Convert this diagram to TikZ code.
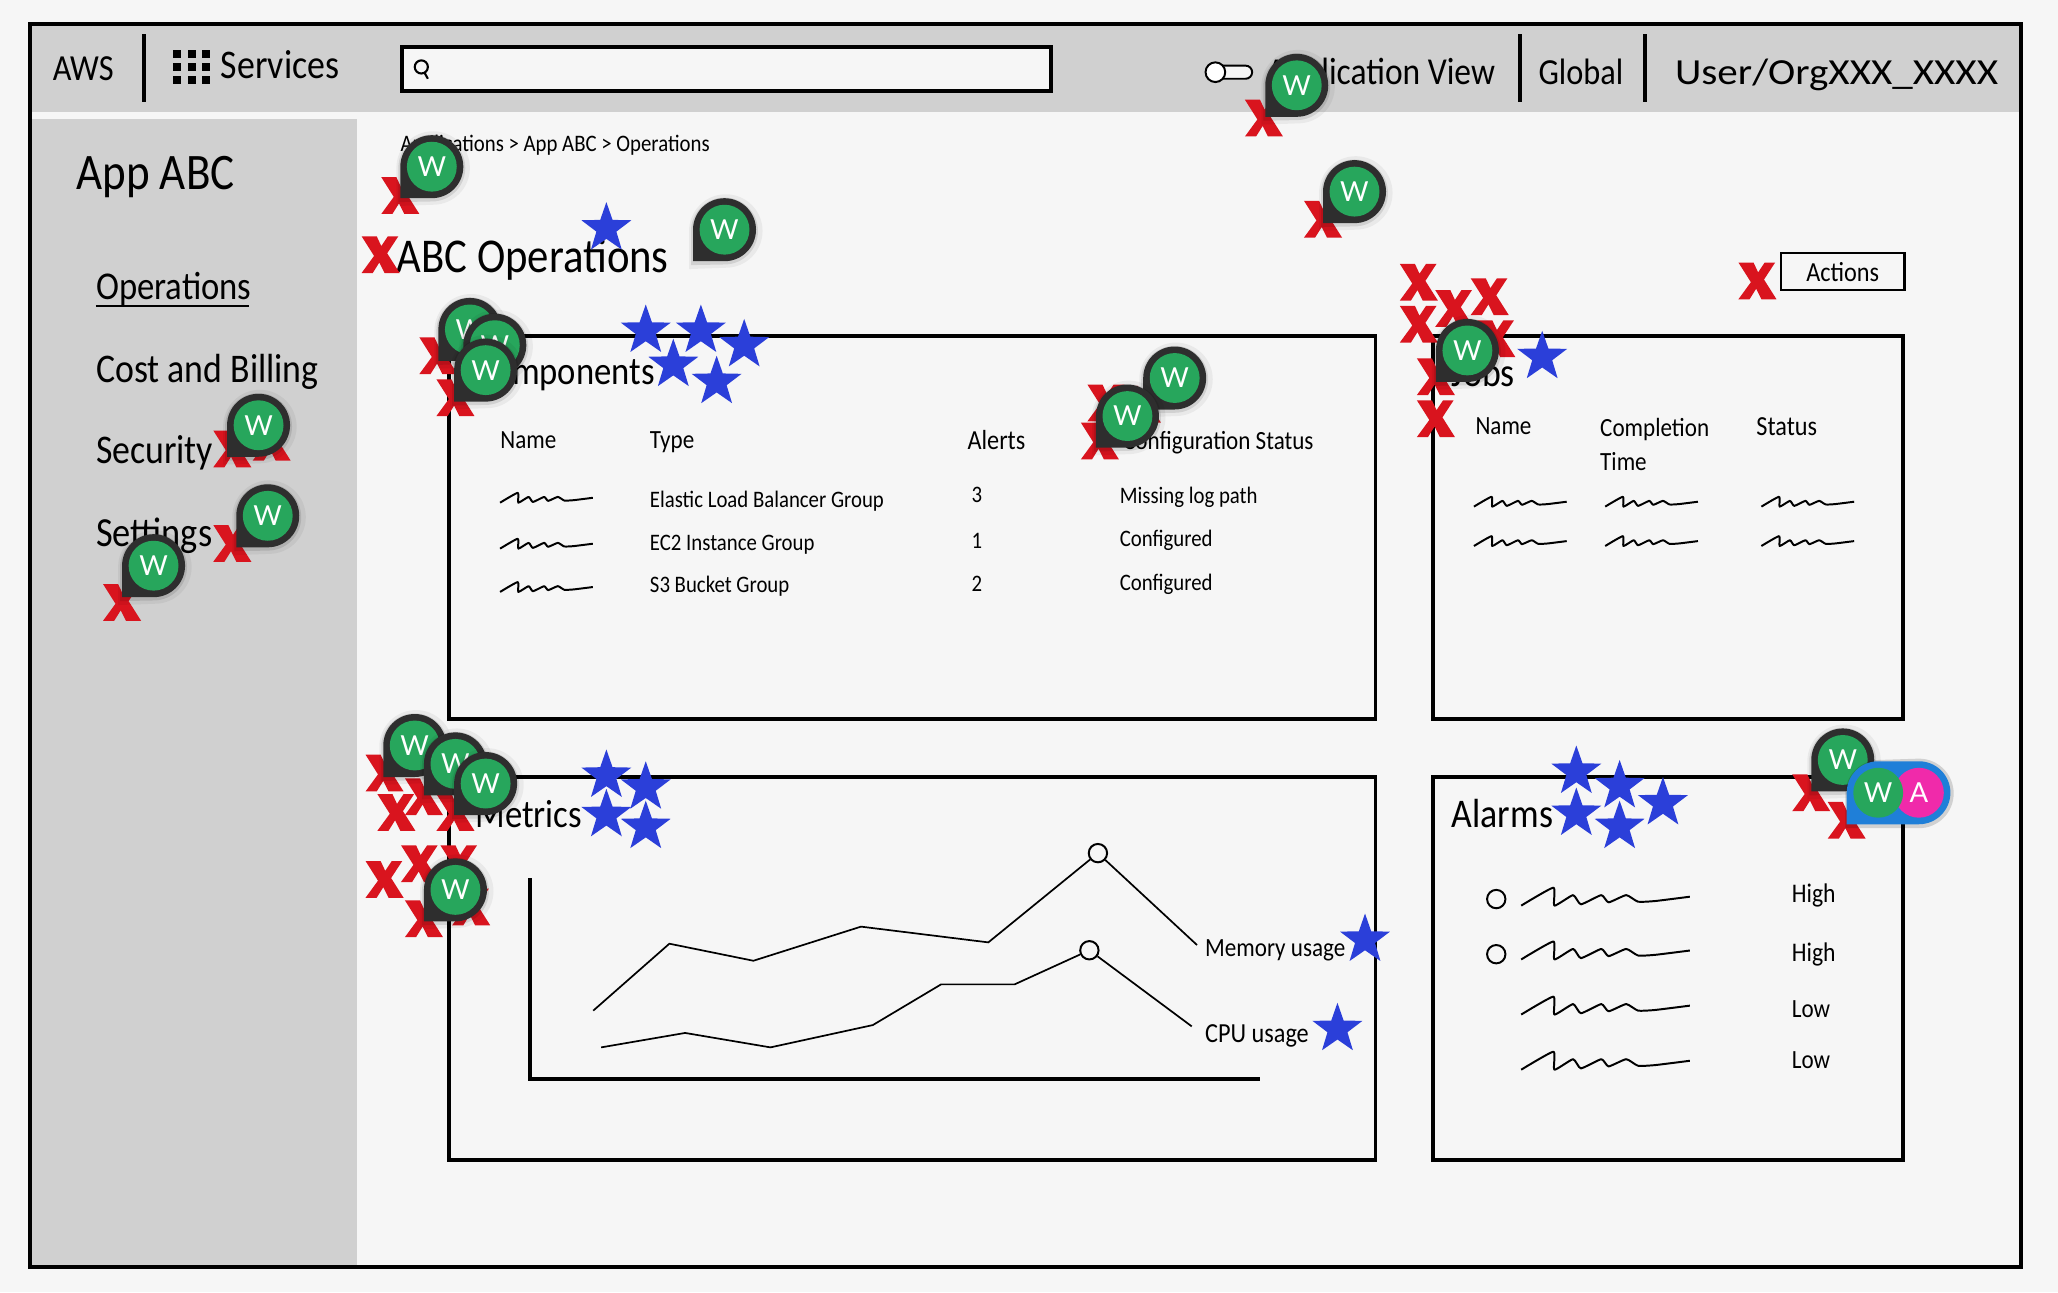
\documentclass[tikz,border=0pt]{standalone}
\usepackage{fontspec}
\usepackage{xcolor}
\usepackage{tikz}
\usetikzlibrary{positioning,shapes.geometric}
\setmainfont[FakeStretch=0.88]{Carlito}
\newfontfamily\pinfont{Lato}
\definecolor{pagebg}{HTML}{F6F6F6}
\definecolor{bargray}{HTML}{D0D0D0}
\definecolor{markred}{HTML}{D9141E}
\definecolor{starblue}{HTML}{2B3FD9}
\definecolor{pindark}{HTML}{2E2E2E}
\definecolor{pingreen}{HTML}{27A65C}
\definecolor{pinblue}{HTML}{1F7FD8}
\definecolor{pinpink}{HTML}{F02AAA}
\tikzset{
  txt/.style={font=\fontsize{#1}{#1}\selectfont, inner sep=0pt, text=black},
  ltxt/.style={txt=#1, anchor=west},
  panel/.style={draw=black, line width=3pt, fill=none},
  heavy/.style={draw=black, line width=3pt},
  staricon/.style={star, star points=5, star point ratio=2.5, fill=starblue, minimum size=40pt, inner sep=0pt, yshift=-2pt},
  pinlabel/.style={font=\pinfont\fontsize{21}{21}\selectfont, inner sep=0pt, text=white},
  redx/.pic={
    \fill[markred] (-14.5,-14) -- (-3,-14) -- (0.5,-6.5) -- (5.5,-14) -- (13.5,-14) -- (5,-1) -- (14.5,14)
      -- (3,14) -- (-1,6) -- (-6,14) -- (-14.5,14) -- (-5,1) -- cycle;
  },
  wpin/.pic={
    \fill[black, opacity=0.05] (-27,30) -- (-27,1) arc (180:450:28) -- cycle;
    \fill[black, opacity=0.10] (-25.5,27) -- (-25.5,1) arc (180:450:25.5) -- cycle;
    \fill[pindark] (-24,24) -- (-24,0) arc (180:450:24);
    \fill[pingreen] (0,0) circle (19);
    \node[pinlabel] (-w) at (0,0) {W};
  },
  squiggle/.pic={
    \draw[line width=1.5pt, line join=round] plot[smooth, tension=0.3] coordinates {(0,0) (24.5,-13.7) (25.3,0)
      (39.5,-8) (45.5,-1) (61,-8) (66.6,-2.5) (80,-8) (89,-3) (102,-3.5) (128.5,-6.8)};
  },
}
\begin{document}
\begin{tikzpicture}[x=1pt, y=-1pt]
\useasboundingbox (0,0) rectangle (1568,984.4);
\fill[pagebg] (0,0) rectangle (1568,984.4);
\fill[bargray] (23,18) rectangle (1540,85);
\fill[bargray] (23,91) rectangle (272,965);
\draw[heavy] (23,18) rectangle (1540,965);
\draw[heavy] (110,26) -- (110,78);
\draw[heavy] (1158,26) -- (1158,78);
\draw[heavy] (1253,26) -- (1253,78);
\draw[heavy, fill=pagebg] (306,36) rectangle (801,69);
\draw[line width=1.6pt] (321,51) circle (5);
\draw[line width=1.6pt] (323.5,55.5) -- (326,60);
\foreach \gx in {135,146,157} \foreach \gy in {41,51,61} \fill[black] (\gx-3,\gy-3) rectangle (\gx+3,\gy+3);
\node[ltxt=28] (aws) at (40,52) {AWS};
\node[ltxt=31] (services) at (168,49) {Services};
\draw[line width=1.5pt, rounded corners=5pt, fill=pagebg] (922,50) rectangle (954,60);
\draw[line width=1.5pt, fill=white] (926,55) circle (7.5);
\node[ltxt=29] (appview) at (965,57) {Application View};
\node[ltxt=28] (global) at (1172,55) {Global};
\node[ltxt=28] (userorg) at (1276,57) {\scalebox{1.27}[1]{User/OrgXXX\_XXXX}};
\node[ltxt=18] (crumbs) at (305,111) {Applications > App ABC > Operations};
\node[ltxt=39] (appabc) at (58,135) {App ABC};
\node[ltxt=30] (opsnav) at (73,220) {Operations};
\draw[line width=1.5pt] (73,233) -- (190,233);
\node[ltxt=31] (costnav) at (73,283) {Cost and Billing};
\node[ltxt=31] (secnav) at (73,345) {Security};
\node[ltxt=31.5] (setnav) at (73,408) {Settings};
\node[ltxt=37] (pagetitle) at (302,198) {ABC Operations};
\node[draw=black, line width=1.6pt, txt=21, minimum width=94pt, minimum height=28pt] (actions) at (1404,207) {Actions};
\draw[panel] (342,256) rectangle (1048,548);
\draw[panel] (1092,256) rectangle (1450,548);
\draw[panel] (342,592) rectangle (1048,884);
\draw[panel] (1092,592) rectangle (1450,884);
\node[ltxt=30] (comptitle) at (362,286) {Components};
\node[ltxt=31] (jobstitle) at (1106,284) {Jobs};
\node[ltxt=30] (mettitle) at (362,620) {Metrics};
\node[ltxt=31] (alarmtitle) at (1106,620) {Alarms};
\node[ltxt=20] (cname) at (381,335) {Name};
\node[ltxt=20] (ctype) at (495,337) {Type};
\node[ltxt=21] (calerts) at (737,335) {Alerts};
\node[txt=20, anchor=east] (cconf) at (1001,337) {Configuration Status};
\node[ltxt=18] (type1) at (495,382) {Elastic Load Balancer Group};
\node[ltxt=18] (type2) at (495,415) {EC2 Instance Group};
\node[ltxt=18] (type3) at (495,447) {S3 Bucket Group};
\node[ltxt=18] (al1) at (740,377) {3};
\node[ltxt=18] (al2) at (740,412) {1};
\node[ltxt=18] (al3) at (740,445) {2};
\node[ltxt=18] (conf1) at (853,379) {Missing log path};
\node[ltxt=18] (conf2) at (853,412) {Configured};
\node[ltxt=18] (conf3) at (853,445) {Configured};
\node[ltxt=20] (jname) at (1124,325) {Name};
\node[ltxt=20] (jcomp) at (1219,327) {Completion};
\node[ltxt=20] (jtime) at (1219,352) {Time};
\node[ltxt=21] (jstat) at (1338,325) {Status};
\foreach \sx/\sy in {381/383,381/418,381/451,1123/386,1223/386,1342/386,1123/416,1223/416,1342/416}
  \pic[scale=0.55] at (\sx,\sy) {squiggle};
\foreach \sy in {690,731,773,815} \pic at (1159,\sy) {squiggle};
\draw[line width=1.5pt] (1140,685) circle (7);
\draw[line width=1.5pt] (1140,727) circle (7);
\node[ltxt=20.5] (sev1) at (1365,682) {High};
\node[ltxt=20.5] (sev2) at (1365,727) {High};
\node[ltxt=20] (sev3) at (1365,769) {Low};
\node[ltxt=20] (sev4) at (1365,808) {Low};
\draw[heavy] (404,669) -- (404,822) -- (960,822);
\node[circle, draw=black, line width=1.5pt, fill=pagebg, minimum size=14pt, inner sep=0pt] (mempeak) at (836.5,650) {};
\node[circle, draw=black, line width=1.5pt, fill=pagebg, minimum size=14pt, inner sep=0pt] (cpupeak) at (830,724) {};
\coordinate (memend) at (912,720);
\coordinate (cpuend) at (908,782);
\draw[line width=1.3pt] (452,770) -- (510,719) -- (574,732) -- (656,706) -- (753,718) -- (mempeak) -- (memend);
\draw[line width=1.3pt] (458,798) -- (522,787) -- (587,798) -- (665,781) -- (717,750) -- (773,750) -- (cpupeak) -- (cpuend);
\node[ltxt=20] (memlabel) at (918,724) {Memory usage};
\node[ltxt=21] (cpulabel) at (918,789) {CPU usage};
\foreach \sx/\sy [count=\i] in {462/172,492/250,534/250,567/261,513/276,546/289,1175/270,462/589,492/598,462/619,492/628,1201/586,1234/597,1267/610,1201/618,1234/628,1040/714,1019/782}
  \node[staricon] (star\i) at (\sx,\sy) {};
\foreach \mx/\my in {963/90,305/149,290/194,1008/167,1339/214,1081/215,1135/226,1108/235,1081/247,1140/258,1094/287,1094/319,334/271,347/303,843/307,838/336,870/308,177/342,207/337,177/414,93/459,293/589,323/607,302/619,347/619,293/670,320/658,350/658,323/700,359/691,1380/604,1407/625}
  \pic at (\mx,\my) {redx};
\foreach \px/\py [count=\i] in {988/65,329/127,1032/146,552/175,358/251,377/263,370/282,197/324,204/393,117/431,895/288,859/317,1118/267,316/568,347/582,370/597,347/678,1404/579}
  \pic (wpin\i) at (\px,\py) {wpin};
\fill[black, opacity=0.15] (1406,631) -- (1406,605) arc (180:270:26) -- (1462,578) arc (-90:90:26.5) -- cycle;
\fill[pinblue] (1407,628) -- (1407,604) arc (180:270:24) -- (1462,580) arc (-90:90:24) -- cycle;
\node[circle, fill=pinpink, minimum size=38pt, inner sep=0pt, font=\pinfont\fontsize{21}{21}\selectfont, text=white] (paira) at (1462,604) {A};
\node[circle, fill=pingreen, minimum size=38pt, inner sep=0pt, font=\pinfont\fontsize{21}{21}\selectfont, text=white] (pairw) at (1431,604) {W};
\end{tikzpicture}
\end{document}
